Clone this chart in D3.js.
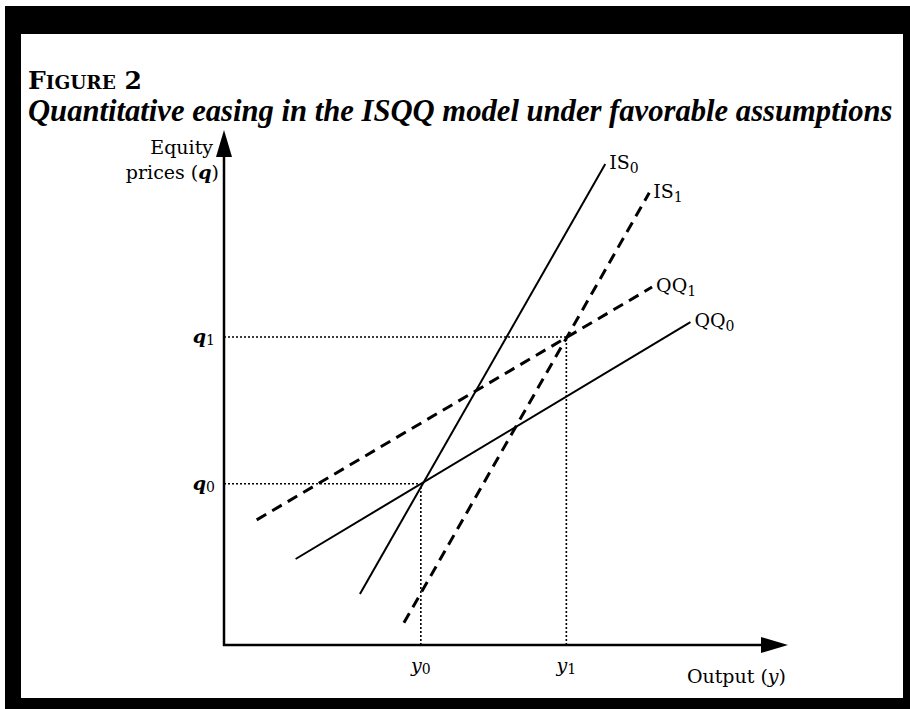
<!DOCTYPE html>
<html>
<head>
<meta charset="utf-8">
<script src="https://cdn.jsdelivr.net/npm/d3@7"></script>
<style>
html,body{margin:0;padding:0;background:#fff;}
svg{display:block;}
</style>
</head>
<body>
<svg id="chart" width="910" height="709" font-family="'DejaVu Serif','Liberation Serif',serif"></svg>
<script>
// ---- data ----
const curveNames = ["IS", "IS", "QQ", "QQ"];
const curveSubs = ["0", "1", "0", "1"];
const curveStartX = [24.1, 31.9, 12.7, 5.8];
const curveStartY = [9.9, 4.3, 16.7, 24.3];
const curveEndX = [67.6, 75.4, 82.7, 75.9];
const curveEndY = [93.4, 87.8, 62.7, 69.5];
const eqX = [34.9, 60.7];
const eqY = [31.3, 59.8];
const xTickLabels = ["y", "y"];
const yTickLabels = ["q", "q"];
const tickSubs = ["0", "1"];
const titleLine2 = "Quantitative easing in the ISQQ model under favorable assumptions";
const yAxisLabel = ["Equity", "prices ("];
const xAxisLabel = "Output (";

// ---- styles ----
const dashedCurve = [false, true, false, true];

const svg = d3.select("#chart");
const W = 910, H = 709;

// frame
svg.append("rect").attr("x", 0).attr("y", 0).attr("width", W).attr("height", H).attr("fill", "#fff");
svg.append("rect").attr("x", 5).attr("y", 6).attr("width", W - 5).attr("height", H - 6).attr("fill", "#000");
svg.append("rect").attr("x", 21).attr("y", 34).attr("width", 903 - 21).attr("height", 698 - 34).attr("fill", "#fff");

const x = d3.scaleLinear().domain([0, 100]).range([224, 788]);
const y = d3.scaleLinear().domain([0, 100]).range([645, 130]);

// title
const t1 = svg.append("text").attr("x", 28).attr("y", 89)
  .attr("font-weight", "bold").attr("font-size", 25);
t1.append("tspan").text("F");
t1.append("tspan").attr("font-size", 18.5).text("IGURE");
t1.append("tspan").text(" 2");

const t2 = svg.append("text").attr("x", 28).attr("y", 121)
  .style("font-family", "'Liberation Serif', serif")
  .attr("font-weight", "bold").attr("font-style", "italic").attr("font-size", 28).text(titleLine2);
(function(){
  const target = 893 - 28;
  const w = t2.node().getComputedTextLength();
  t2.attr("font-size", 28 * target / w);
})();

const g = svg.append("g");

// dotted guides
eqX.forEach((d, i) => {
  g.append("line").attr("x1", x(0)).attr("x2", x(d)).attr("y1", y(eqY[i])).attr("y2", y(eqY[i]))
    .attr("stroke", "#000").attr("stroke-width", 1.6).attr("stroke-dasharray", "2,2");
  g.append("line").attr("x1", x(d)).attr("x2", x(d)).attr("y1", y(0)).attr("y2", y(eqY[i]))
    .attr("stroke", "#000").attr("stroke-width", 1.6).attr("stroke-dasharray", "2,2");
});

// curves
curveNames.forEach((n, i) => {
  const l = g.append("line")
    .attr("x1", x(curveStartX[i])).attr("y1", y(curveStartY[i]))
    .attr("x2", x(curveEndX[i])).attr("y2", y(curveEndY[i]))
    .attr("stroke", "#000");
  if (dashedCurve[i]) l.attr("stroke-width", 3).attr("stroke-dasharray", "11,7");
  else l.attr("stroke-width", 2);
  const lab = g.append("text").attr("x", x(curveEndX[i]) + 4).attr("y", y(curveEndY[i]) + 5)
    .attr("font-size", 19);
  lab.append("tspan").text(n);
  lab.append("tspan").attr("font-size", 14).attr("dy", 4).text(curveSubs[i]);
});

// axes
g.append("line").attr("x1", x(0)).attr("x2", x(0)).attr("y1", y(0) + 1).attr("y2", y(100) + 20)
  .attr("stroke", "#000").attr("stroke-width", 2.5);
g.append("line").attr("x1", x(0) - 1).attr("x2", x(100) - 20).attr("y1", y(0)).attr("y2", y(0))
  .attr("stroke", "#000").attr("stroke-width", 2.5);
g.append("path").attr("d", `M${x(0)},${y(100)} L${x(0) - 8},${y(100) + 27} L${x(0) + 8},${y(100) + 27} Z`).attr("fill", "#000");
g.append("path").attr("d", `M${x(100)},${y(0)} L${x(100) - 27},${y(0) - 8} L${x(100) - 27},${y(0) + 8} Z`).attr("fill", "#000");

// tick labels
eqX.forEach((d, i) => {
  const t = g.append("text").attr("x", x(d)).attr("y", y(0) + 27).attr("text-anchor", "middle").attr("font-size", 19);
  t.append("tspan").attr("font-style", "italic").text(xTickLabels[i]);
  t.append("tspan").attr("font-size", 14).attr("dy", 2).text(tickSubs[i]);
});
eqY.forEach((d, i) => {
  const t = g.append("text").attr("x", x(0) - 9).attr("y", y(d) + 6).attr("text-anchor", "end").attr("font-size", 19);
  t.append("tspan").attr("font-style", "italic").attr("font-weight", "bold").text(yTickLabels[i]);
  t.append("tspan").attr("font-size", 14).attr("dy", 2).text(tickSubs[i]);
});

// axis titles
g.append("text").attr("x", x(0) - 11).attr("y", 154).attr("text-anchor", "end").attr("font-size", 19).text(yAxisLabel[0]);
const pl = g.append("text").attr("x", x(0) - 5).attr("y", 179).attr("text-anchor", "end").attr("font-size", 19);
pl.append("tspan").text(yAxisLabel[1]);
pl.append("tspan").attr("font-style", "italic").attr("font-weight", "bold").text("q");
pl.append("tspan").text(")");
const ol = g.append("text").attr("x", 786).attr("y", 683).attr("text-anchor", "end").attr("font-size", 19);
ol.append("tspan").text(xAxisLabel);
ol.append("tspan").attr("font-style", "italic").text("y");
ol.append("tspan").text(")");
</script>
</body>
</html>
